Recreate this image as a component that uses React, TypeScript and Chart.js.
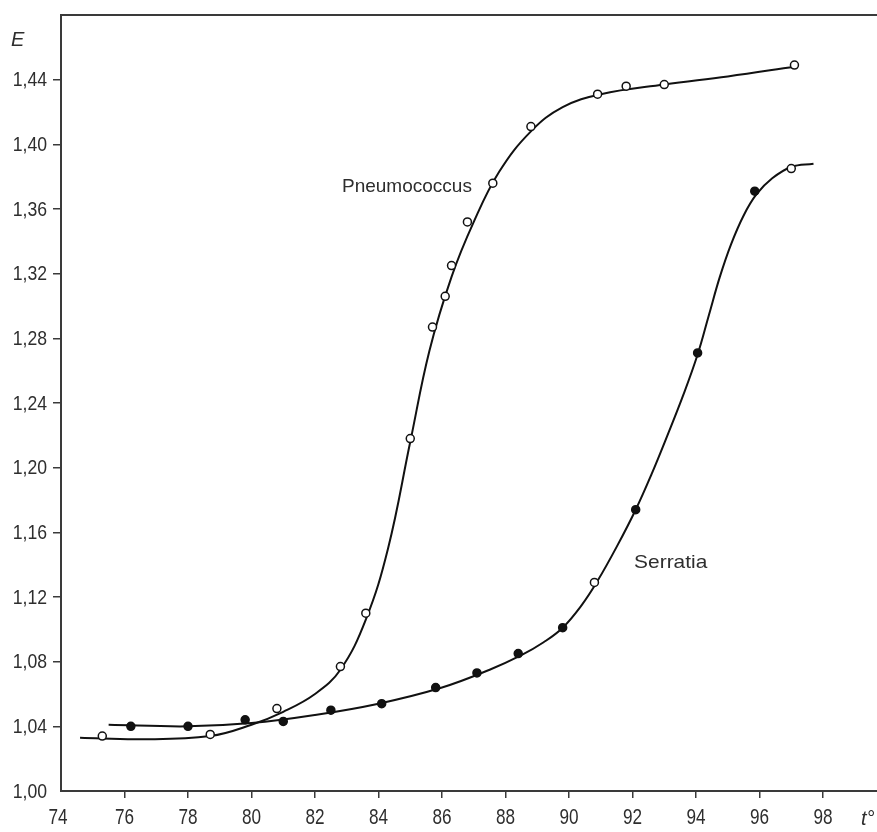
import React, { useEffect, useRef } from "react";
import { Chart, registerables } from "chart.js";

Chart.register(...registerables);

// Measured points (open circles) – Pneumococcus
const pneuT = [75.3, 78.7, 80.8, 82.8, 83.6, 85.0, 85.7, 86.1, 86.3, 86.8, 87.6, 88.8, 90.9, 91.8, 93.0, 97.1];
const pneuE = [1.034, 1.035, 1.051, 1.077, 1.110, 1.218, 1.287, 1.306, 1.325, 1.352, 1.376, 1.411, 1.431, 1.436, 1.437, 1.449];

// Measured points – Serratia (filled unless marked open)
const serrT = [76.2, 78.0, 79.8, 81.0, 82.5, 84.1, 85.8, 87.1, 88.4, 89.8, 90.8, 92.1, 94.05, 95.85, 97.0];
const serrE = [1.040, 1.040, 1.044, 1.043, 1.050, 1.054, 1.064, 1.073, 1.085, 1.101, 1.129, 1.174, 1.271, 1.371, 1.385];
const serrOpen = [false, false, false, false, false, false, false, false, false, false, true, false, false, false, true];

// Fitted curves
const pneuCurveT = [74.6, 76.5, 78.7, 80.0, 81.0, 82.0, 82.8, 83.6, 84.3, 85.0, 85.6, 86.3, 87.0, 87.8, 88.8, 89.8, 91.0, 93.0, 95.0, 97.1];
const pneuCurveE = [1.033, 1.032, 1.034, 1.041, 1.049, 1.060, 1.075, 1.106, 1.150, 1.216, 1.272, 1.318, 1.352, 1.383, 1.408, 1.423, 1.431, 1.437, 1.442, 1.448];
const serrCurveT = [75.5, 78.0, 80.0, 82.0, 84.0, 86.0, 87.5, 88.5, 89.2, 89.8, 90.4, 90.9, 91.5, 92.1, 92.6, 93.1, 93.6, 94.05, 94.4, 94.75, 95.1, 95.5, 95.9, 96.4, 97.0, 97.7];
const serrCurveE = [1.041, 1.040, 1.042, 1.047, 1.054, 1.064, 1.075, 1.084, 1.092, 1.101, 1.115, 1.130, 1.151, 1.174, 1.196, 1.220, 1.245, 1.270, 1.294, 1.318, 1.338, 1.356, 1.369, 1.379, 1.386, 1.388];

// Axis settings
const xMin = 74, xMax = 99.7, xStep = 2;
const yMin = 1.0, yMax = 1.48, yStep = 0.04;
const yAxisTitle = "E";
const xAxisTitle = "t°";

// Curve labels (data coordinates of the text's left/middle)
const labelTexts = ["Pneumococcus", "Serratia"];
const labelT = [82.85, 92.05];
const labelE = [1.374, 1.141];

const FONT = "'Liberation Sans', Arial, sans-serif";
const TEXT = "#2e2e2e";
const AXIS = "#3a3a3a";

const zip = (xs: number[], ys: number[]) => xs.map((x, i) => ({ x, y: ys[i] }));
const fmtY = (n: number) => n.toFixed(2).replace(".", ",");

export default function App() {
  const ref = useRef<HTMLCanvasElement | null>(null);
  useEffect(() => {
    if (!ref.current) return;
    const decor = {
      id: "decor",
      afterDraw(chart: any) {
        const { ctx, chartArea, scales } = chart;
        ctx.save();
        // top border
        ctx.strokeStyle = AXIS;
        ctx.lineWidth = 2;
        ctx.beginPath();
        ctx.moveTo(chartArea.left - 1, chartArea.top);
        ctx.lineTo(chartArea.right, chartArea.top);
        ctx.stroke();

        ctx.fillStyle = TEXT;
        // y tick labels (condensed)
        ctx.font = `21px ${FONT}`;
        ctx.textAlign = "right";
        ctx.textBaseline = "middle";
        scales.y.ticks.forEach((t: any) => {
          if (t.value > 1.45) return;
          const py = scales.y.getPixelForValue(t.value);
          ctx.save();
          ctx.translate(47, py + 1);
          ctx.scale(0.84, 1);
          ctx.fillText(fmtY(t.value), 0, 0);
          ctx.restore();
        });
        // x tick labels (condensed)
        ctx.font = `22px ${FONT}`;
        ctx.textAlign = "center";
        scales.x.ticks.forEach((t: any) => {
          const px = scales.x.getPixelForValue(t.value);
          ctx.save();
          ctx.translate(t.value === xMin ? px - 3 : px, chartArea.bottom + 27);
          ctx.scale(0.78, 1);
          ctx.fillText(String(Math.round(t.value)), 0, 0);
          ctx.restore();
        });

        // curve labels
        ctx.font = `19px ${FONT}`;
        ctx.textBaseline = "middle";
        ctx.textAlign = "left";
        labelTexts.forEach((t, i) => {
          const px = scales.x.getPixelForValue(labelT[i]);
          const py = scales.y.getPixelForValue(labelE[i]);
          ctx.save();
          ctx.translate(px, py);
          ctx.scale(i === 0 ? 1.0 : 1.1, 1);
          ctx.fillText(t, 0, 0);
          ctx.restore();
        });
        // axis titles
        ctx.font = `italic 20px ${FONT}`;
        ctx.textAlign = "left";
        ctx.fillText(yAxisTitle, 11, chartArea.top + 25);
        ctx.fillText(xAxisTitle, 861, chartArea.bottom + 28);
        ctx.restore();
      },
    };
    const chart = new Chart(ref.current, {
      type: "line",
      data: {
        datasets: [
          {
            type: "scatter",
            data: zip(pneuT, pneuE),
            showLine: false,
            pointRadius: 4,
            pointBorderWidth: 1.5,
            pointBackgroundColor: "#fff",
            pointBorderColor: "#111",
            order: 0,
          },
          {
            type: "scatter",
            data: zip(serrT, serrE),
            showLine: false,
            pointRadius: 4,
            pointBorderWidth: 1.5,
            pointBackgroundColor: serrOpen.map((o) => (o ? "#fff" : "#111")),
            pointBorderColor: "#111",
            order: 0,
          },
          {
            data: zip(pneuCurveT, pneuCurveE),
            borderColor: "#111",
            borderWidth: 2,
            pointRadius: 0,
            tension: 0.4,
            fill: false,
            order: 1,
          },
          {
            data: zip(serrCurveT, serrCurveE),
            borderColor: "#111",
            borderWidth: 2,
            pointRadius: 0,
            tension: 0.4,
            fill: false,
            order: 1,
          },
        ] as any,
      },
      options: {
        animation: false,
        responsive: true,
        maintainAspectRatio: false,
        layout: { autoPadding: false, padding: { top: 11, right: 0, left: 0, bottom: 0 } },
        plugins: { legend: { display: false }, tooltip: { enabled: false } },
        scales: {
          x: {
            type: "linear",
            min: xMin,
            max: xMax,
            afterFit: (s: any) => { s.height = 41; },
            ticks: {
              stepSize: xStep,
              includeBounds: false,
              color: "rgba(0,0,0,0)",
              font: { family: FONT, size: 20 },
              padding: 3,
              maxRotation: 0,
              autoSkip: false,
            },
            grid: {
              drawOnChartArea: false,
              drawTicks: true,
              tickLength: 7,
              lineWidth: 1.5,
              color: (c: any) => (c.tick && c.tick.value === xMin ? "rgba(0,0,0,0)" : AXIS),
            },
            border: { display: true, color: AXIS, width: 2 },
          },
          y: {
            type: "linear",
            min: yMin,
            max: yMax,
            afterFit: (s: any) => { s.width = 61; },
            ticks: {
              stepSize: yStep,
              includeBounds: false,
              color: "rgba(0,0,0,0)",
              font: { family: FONT, size: 20 },
              padding: 3,
              autoSkip: false,
            },
            grid: {
              drawOnChartArea: false,
              drawTicks: true,
              tickLength: 8,
              lineWidth: 1.5,
              color: (c: any) => (c.tick && (c.tick.value > 1.45 || c.tick.value < 1.001) ? "rgba(0,0,0,0)" : AXIS),
            },
            border: { display: true, color: AXIS, width: 2 },
          },
        },
      } as any,
      plugins: [decor],
    });
    return () => chart.destroy();
  }, []);
  return (
    <div style={{ position: "absolute", left: 0, top: 0, width: 877, height: 832, background: "#fff" }}>
      <canvas ref={ref} />
    </div>
  );
}
